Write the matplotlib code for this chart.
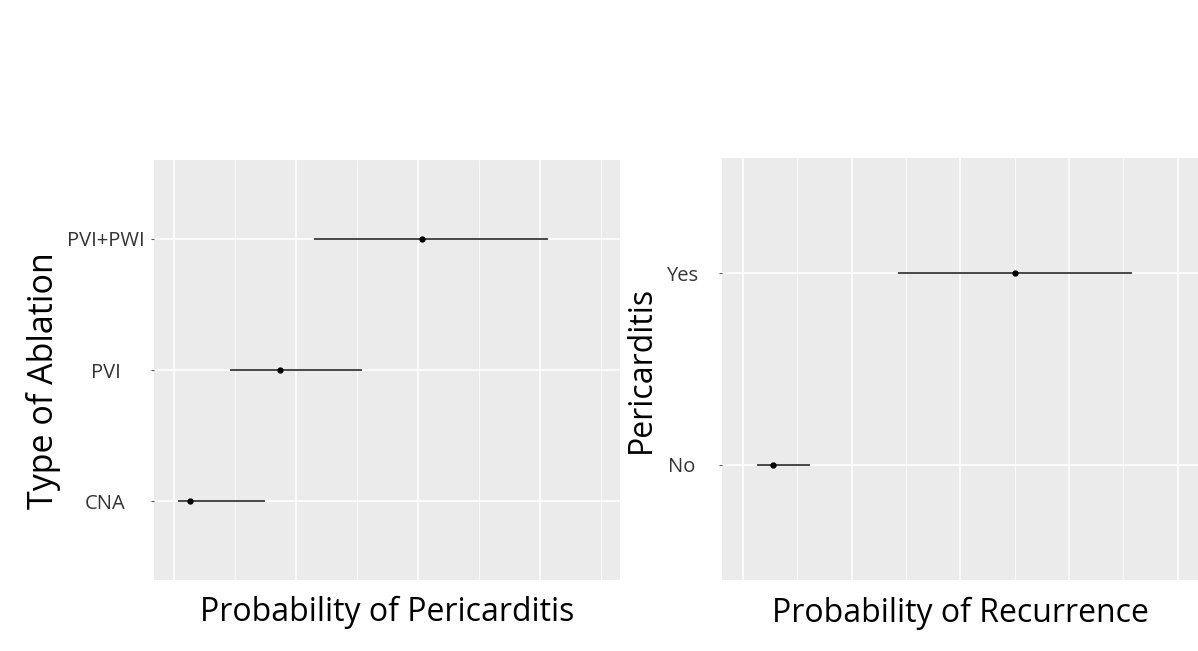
import matplotlib
matplotlib.use('Agg')
import matplotlib.pyplot as plt
import numpy as np

# Left panel: probability of pericarditis by ablation type
ablation_types = ['CNA', 'PVI', 'PVI+PWI']
peri_est = [0.0066, 0.0434, 0.1016]
peri_lo = [0.0016, 0.0230, 0.0574]
peri_hi = [0.0373, 0.0770, 0.1533]

# Right panel: probability of recurrence by pericarditis
peri_groups = ['No', 'Yes']
rec_est = [0.0276, 0.2502]
rec_lo = [0.0129, 0.1426]
rec_hi = [0.0616, 0.3579]

plt.rcParams['font.family'] = ['Open Sans', 'DejaVu Sans']

fig = plt.figure(figsize=(11.98, 6.51), dpi=100)
fig.patch.set_facecolor('white')

ax1 = fig.add_axes([154 / 1198, 71 / 651, 466 / 1198, 420 / 651])
ax2 = fig.add_axes([722 / 1198, 71 / 651, 476 / 1198, 422 / 651])


def forest(ax, labels, est, lo, hi, xlim, major, ylabel, xlabel, pad, ylab_xy, ylab_size):
    y = np.arange(1, len(labels) + 1)
    ax.set_facecolor('#ebebeb')
    for s in ax.spines.values():
        s.set_visible(False)
    ax.hlines(y, lo, hi, color='#3a3a3a', lw=1.3, zorder=3)
    ax.plot(est, y, 'o', color='black', ms=3.5, zorder=4)
    ax.set_xlim(*xlim)
    ax.set_ylim(0.4, len(labels) + 0.6)
    ax.set_yticks(y)
    ax.set_yticklabels(labels, fontsize=14.5, color='#333333', ha='center')
    ax.set_xticks(np.arange(0, xlim[1], major))
    ax.set_xticks(np.arange(major / 2, xlim[1], major), minor=True)
    ax.set_xticklabels([])
    ax.tick_params(axis='x', which='both', length=0)
    ax.tick_params(axis='y', length=2, color='#555555', pad=pad)
    ax.grid(True, which='major', color='white', lw=1.1)
    ax.grid(True, which='minor', axis='x', color='white', lw=0.5)
    ax.set_axisbelow(True)
    ax.set_ylabel(ylabel, fontsize=ylab_size, color='black', va='center', ha='center')
    ax.yaxis.set_label_coords(*ylab_xy)
    ax.set_xlabel(xlabel, fontsize=23, color='black', va='center', ha='center')
    ax.xaxis.set_label_coords(0.5, -0.078)


forest(ax1, ablation_types, peri_est, peri_lo, peri_hi, (-0.0082, 0.1828), 0.05,
       'Type of Ablation', 'Probability of Pericarditis', 33, (-0.238, 0.474), 24.5)
forest(ax2, peri_groups, rec_est, rec_lo, rec_hi, (-0.0193, 0.4186), 0.1,
       'Pericarditis', 'Probability of Recurrence', 27, (-0.170, 0.5), 23)

fig.savefig('out.png', dpi=100, facecolor='white')
